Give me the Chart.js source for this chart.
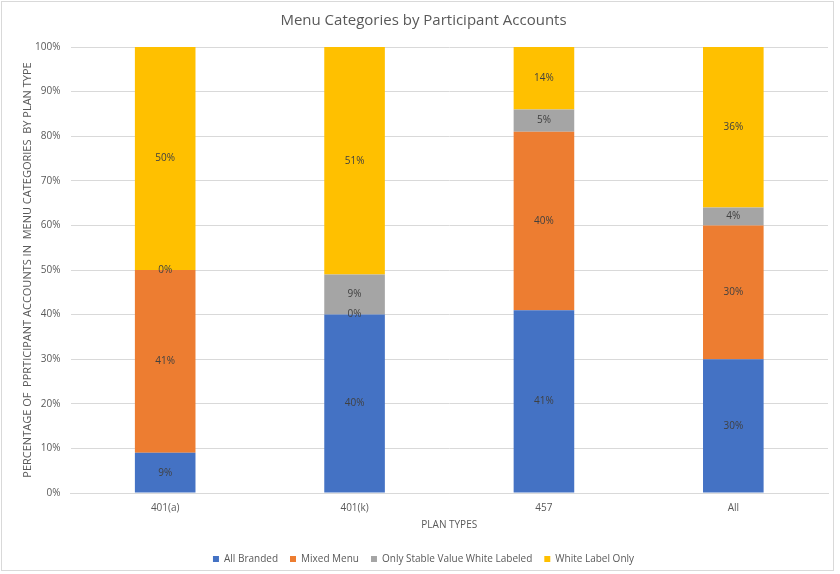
<!DOCTYPE html>
<html>
<head>
<meta charset="utf-8">
<script src="https://cdn.jsdelivr.net/npm/chart.js@4"></script>
<style>
  body { margin: 0; background: #fff; }
  #frame {
    position: absolute; left: 1px; top: 1px;
    width: 833px; height: 570px;
    border: 1px solid #d9d9d9; box-sizing: border-box;
  }
</style>
</head>
<body>
<div id="frame"><canvas id="chart"></canvas></div>
<script>
const planTypes = ["401(a)", "401(k)", "457", "All"];
const allBranded = [9, 40, 41, 30];
const mixedMenu = [41, 0, 40, 30];
const stableValueOnly = [0, 9, 5, 4];
const whiteLabelOnly = [50, 51, 14, 36];

const yTicks = [0, 10, 20, 30, 40, 50, 60, 70, 80, 90, 100];

const fontFamily = "'Open Sans', 'Liberation Sans', sans-serif";
const textGrey = "#595959";

// percent labels in the middle of each stacked segment
const segmentLabels = {
  id: "segmentLabels",
  afterDatasetsDraw(chart) {
    const ctx = chart.ctx;
    ctx.save();
    ctx.font = "10px " + fontFamily;
    ctx.fillStyle = "#404040";
    ctx.textAlign = "center";
    ctx.textBaseline = "middle";
    chart.data.datasets.forEach((ds, i) => {
      chart.getDatasetMeta(i).data.forEach((bar, j) => {
        const mid = (bar.y + bar.base) / 2;
        ctx.fillText(ds.data[j] + "%", bar.x, mid);
      });
    });
    ctx.restore();
  }
};

function series(label, data, color) {
  return {
    label: label,
    data: data,
    backgroundColor: color,
    borderWidth: 0,
    categoryPercentage: 1,
    barPercentage: 0.32
  };
}

new Chart(document.getElementById("chart"), {
  type: "bar",
  data: {
    labels: planTypes,
    datasets: [
      series("All Branded", allBranded, "#4472c4"),
      series("Mixed Menu", mixedMenu, "#ed7d31"),
      series("Only Stable Value White Labeled", stableValueOnly, "#a5a5a5"),
      series("White Label Only", whiteLabelOnly, "#ffc000")
    ]
  },
  options: {
    responsive: true,
    maintainAspectRatio: false,
    animation: false,
    layout: { padding: { left: 17, right: 5, top: 8, bottom: -4 } },
    plugins: {
      title: {
        display: true,
        text: "Menu Categories by Participant Accounts",
        color: textGrey,
        font: { family: fontFamily, size: 15, weight: "normal" },
        padding: { top: 2, bottom: 17 }
      },
      legend: {
        position: "bottom",
        labels: {
          color: textGrey,
          font: { family: fontFamily, size: 10 },
          boxWidth: 6,
          boxHeight: 6,
          padding: 12
        }
      },
      tooltip: { enabled: false }
    },
    scales: {
      x: {
        stacked: true,
        grid: { display: false },
        border: { color: "#d9d9d9" },
        ticks: { color: textGrey, font: { family: fontFamily, size: 10 }, padding: 1 },
        title: {
          display: true,
          text: "PLAN TYPES",
          color: textGrey,
          font: { family: fontFamily, size: 10 },
          padding: { top: 4, bottom: 11 }
        }
      },
      y: {
        stacked: true,
        min: 0,
        max: 100,
        afterBuildTicks(axis) {
          axis.ticks = yTicks.map(v => ({ value: v }));
        },
        afterFit(axis) {
          axis.width = 51.5;
        },
        grid: { color: "#d9d9d9", drawTicks: false },
        border: { display: false },
        ticks: {
          color: textGrey,
          font: { family: fontFamily, size: 10 },
          padding: 10,
          callback: v => v + "%"
        },
        title: {
          display: true,
          text: "PERCENTAGE OF  PPRTICIPANT ACCOUNTS IN  MENU CATEGORIES  BY PLAN TYPE",
          color: textGrey,
          font: { family: fontFamily, size: 11 },
          padding: { top: 2, bottom: 0 }
        }
      }
    }
  },
  plugins: [segmentLabels]
});
</script>
</body>
</html>
